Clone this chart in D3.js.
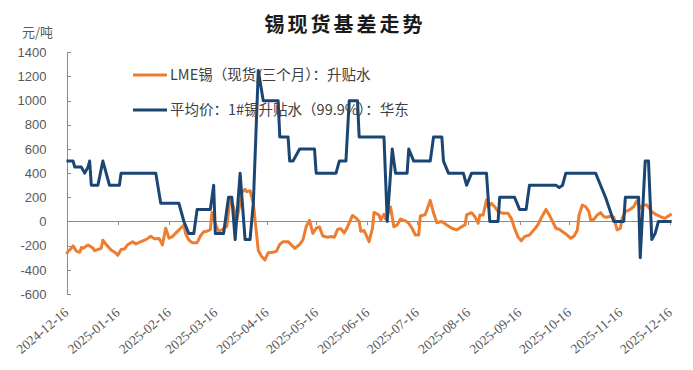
<!DOCTYPE html>
<html>
<head>
<meta charset="utf-8">
<script src="https://cdnjs.cloudflare.com/ajax/libs/d3/7.8.5/d3.min.js"></script>
<style>
  body { margin: 0; background: #fff; }
  svg { display: block; }
</style>
</head>
<body>
<div id="container"></div>
<script>
// ------ data ------
const titleText = '锡现货基差走势';
const unitText = '元/吨';
const seriesNames = ['LME锡（现货/三个月）：升贴水', '平均价：1#锡升贴水（99.9%）：华东'];
const seriesColors = ['#ED7D31', '#1B4674'];

const yTicks = [-600, -400, -200, 0, 200, 400, 600, 800, 1000, 1200, 1400];
const xTicks = ['2024-12-16', '2025-01-16', '2025-02-16', '2025-03-16', '2025-04-16', '2025-05-16',
  '2025-06-16', '2025-07-16', '2025-08-16', '2025-09-16', '2025-10-16', '2025-11-16', '2025-12-16'];

// LME锡 现货/三个月 升贴水
const lmeDates = [
  '2024-12-16', '2024-12-17', '2024-12-18', '2024-12-20', '2024-12-22', '2024-12-24', '2024-12-25', '2024-12-26', '2024-12-29',
  '2025-01-01', '2025-01-02', '2025-01-06', '2025-01-07', '2025-01-09', '2025-01-12', '2025-01-15', '2025-01-16', '2025-01-18',
  '2025-01-20', '2025-01-22', '2025-01-25', '2025-01-27', '2025-01-30', '2025-02-02', '2025-02-05', '2025-02-07', '2025-02-10',
  '2025-02-12', '2025-02-14', '2025-02-16', '2025-02-18', '2025-02-21', '2025-02-23', '2025-02-25', '2025-02-26', '2025-02-28',
  '2025-03-02', '2025-03-05', '2025-03-07', '2025-03-09', '2025-03-11', '2025-03-13', '2025-03-14', '2025-03-16', '2025-03-18',
  '2025-03-19', '2025-03-21', '2025-03-23', '2025-03-25', '2025-03-27', '2025-03-29', '2025-03-31', '2025-04-01', '2025-04-03',
  '2025-04-04', '2025-04-06', '2025-04-08', '2025-04-10', '2025-04-11', '2025-04-13', '2025-04-15', '2025-04-17', '2025-04-20',
  '2025-04-22', '2025-04-24', '2025-04-26', '2025-04-29', '2025-05-01', '2025-05-03', '2025-05-06', '2025-05-08', '2025-05-10',
  '2025-05-12', '2025-05-14', '2025-05-16', '2025-05-18', '2025-05-20', '2025-05-23', '2025-05-25', '2025-05-27', '2025-05-29',
  '2025-05-31', '2025-06-02', '2025-06-04', '2025-06-07', '2025-06-09', '2025-06-11', '2025-06-12', '2025-06-14', '2025-06-17',
  '2025-06-19', '2025-06-20', '2025-06-23', '2025-06-24', '2025-06-26', '2025-06-27', '2025-06-30', '2025-07-02', '2025-07-04',
  '2025-07-06', '2025-07-09', '2025-07-11', '2025-07-13', '2025-07-15', '2025-07-17', '2025-07-18', '2025-07-21', '2025-07-24',
  '2025-07-26', '2025-07-28', '2025-07-31', '2025-08-03', '2025-08-06', '2025-08-09', '2025-08-12', '2025-08-14', '2025-08-15',
  '2025-08-18', '2025-08-20', '2025-08-22', '2025-08-23', '2025-08-25', '2025-08-27', '2025-08-28', '2025-08-30', '2025-09-01',
  '2025-09-03', '2025-09-06', '2025-09-09', '2025-09-11', '2025-09-13', '2025-09-15', '2025-09-17', '2025-09-19', '2025-09-22',
  '2025-09-25', '2025-09-27', '2025-09-29', '2025-10-02', '2025-10-04', '2025-10-06', '2025-10-08', '2025-10-10', '2025-10-14',
  '2025-10-17', '2025-10-19', '2025-10-21', '2025-10-22', '2025-10-24', '2025-10-26', '2025-10-28', '2025-10-29', '2025-10-31',
  '2025-11-02', '2025-11-04', '2025-11-06', '2025-11-08', '2025-11-10', '2025-11-12', '2025-11-14', '2025-11-16', '2025-11-17',
  '2025-11-19', '2025-11-22', '2025-11-24', '2025-11-26', '2025-11-28', '2025-11-30', '2025-12-02', '2025-12-05', '2025-12-08',
  '2025-12-11', '2025-12-13', '2025-12-15', '2025-12-17'
];
const lmeValues = [
  -270, -245, -235, -202, -245, -255, -215, -222, -195,
  -220, -241, -222, -155, -190, -235, -263, -280, -232,
  -228, -192, -167, -186, -167, -150, -122, -142, -140,
  -194, -56, -139, -125, -84, -56, -29, -100, -153,
  -175, -175, -120, -84, -80, -68, 75, -20, -80,
  -75, -60, -40, 200, 120, 12, 150, 240, 266,
  246, 255, 150, -110, -240, -290, -318, -258, -255,
  -245, -190, -167, -167, -194, -222, -190, -153, -40,
  10, -98, -56, -45, -120, -130, -125, -130, -65,
  -60, -95, -43, 50, 30, 0, -80, -75, -167,
  -60, 75, 54, 12, 60, 20, 120, -43, -29,
  20, 5, -15, -56, -112, -112, 45, 57, 175,
  70, -10, 0, -29, -56, -70, -43, -29, 54,
  73, 40, -15, 54, 54, 178, 122, 150, 122,
  81, 68, 68, 26, -56, -125, -160, -125, -112,
  -65, -29, 26, 100, 54, 0, -56, -64, -103,
  -139, -120, -70, 54, 136, 122, 81, 12, 18,
  54, 73, 40, 35, 45, 35, -70, -56, 26,
  81, 100, 122, 172, 109, 136, 136, 81, 54,
  35, 26, 45, 62
];

// 平均价 1#锡升贴水 华东
const eastDates = [
  '2024-12-16', '2024-12-20', '2024-12-21', '2024-12-25', '2024-12-27', '2024-12-29', '2024-12-30', '2024-12-31',
  '2025-01-04', '2025-01-07', '2025-01-08', '2025-01-11', '2025-01-17', '2025-01-18', '2025-02-08', '2025-02-11',
  '2025-02-22', '2025-02-25', '2025-02-28', '2025-03-03', '2025-03-05', '2025-03-13', '2025-03-15', '2025-03-16',
  '2025-03-21', '2025-03-24', '2025-03-26', '2025-03-28', '2025-03-31', '2025-04-03', '2025-04-06', '2025-04-08',
  '2025-04-11', '2025-04-14', '2025-04-23', '2025-04-24', '2025-04-29', '2025-04-30', '2025-05-02', '2025-05-06',
  '2025-05-15', '2025-05-16', '2025-05-28', '2025-05-30', '2025-06-03', '2025-06-05', '2025-06-10', '2025-06-11',
  '2025-06-26', '2025-06-28', '2025-07-01', '2025-07-03', '2025-07-10', '2025-07-11', '2025-07-14', '2025-07-24',
  '2025-07-26', '2025-07-31', '2025-08-01', '2025-08-04', '2025-08-13', '2025-08-15', '2025-08-18', '2025-08-27',
  '2025-08-29', '2025-09-03', '2025-09-04', '2025-09-13', '2025-09-16', '2025-09-20', '2025-09-22', '2025-10-08',
  '2025-10-10', '2025-10-12', '2025-10-14', '2025-11-01', '2025-11-04', '2025-11-07', '2025-11-12', '2025-11-18',
  '2025-11-19', '2025-11-27', '2025-11-28', '2025-12-01', '2025-12-03', '2025-12-05', '2025-12-07', '2025-12-09',
  '2025-12-17'
];
const eastValues = [
  500, 500, 450, 450, 400, 450, 500, 300,
  300, 500, 450, 300, 300, 400, 400, 150,
  150, 0, -100, -100, 100, 100, 300, -100,
  -100, 200, 200, -150, 400, -150, -150, 150,
  1250, 1000, 1000, 700, 700, 500, 500, 600,
  600, 400, 400, 500, 500, 1000, 1000, 700,
  700, 0, 600, 400, 400, 600, 500, 500,
  700, 700, 500, 400, 400, 300, 400, 400,
  0, 0, 200, 200, 100, 100, 300, 300,
  280, 300, 400, 400, 300, 200, 0, 0,
  200, 200, -300, 500, 500, -150, -100, 0,
  0
];

// ------ chart ------
const width = 693,
  height = 370;

const parse = d3.timeParse('%Y-%m-%d');

const svg = d3.select('#container').append('svg')
  .attr('width', width)
  .attr('height', height);

const x = d3.scaleTime()
  .domain([parse(xTicks[0]), parse(xTicks[xTicks.length - 1])])
  .range([66.5, 670]);

const y = d3.scaleLinear()
  .domain([-600, 1400])
  .range([294, 52.3]);

// title + unit
svg.append('text')
  .attr('x', 345).attr('y', 32)
  .attr('text-anchor', 'middle')
  .style('font-family', '"Noto Sans CJK SC", sans-serif')
  .style('font-size', '20px')
  .style('font-weight', 'bold')
  .style('letter-spacing', '3px')
  .style('fill', '#1a1a1a')
  .text(titleText);

svg.append('text')
  .attr('x', 22).attr('y', 37)
  .style('font-family', '"Noto Sans CJK SC", sans-serif')
  .style('font-size', '13px')
  .style('fill', '#595959')
  .text(unitText);

// y axis
const yAxis = svg.append('g')
  .attr('transform', 'translate(66.5,0)')
  .call(d3.axisLeft(y).tickValues(yTicks).tickSize(-4).tickSizeOuter(0).tickPadding(20)
    .tickFormat(d => String(d)));

yAxis.selectAll('path, line').attr('stroke', '#8c8c8c').attr('shape-rendering', 'crispEdges');
yAxis.selectAll('text')
  .style('font-family', '"Liberation Sans", Arial, sans-serif')
  .style('font-size', '13px')
  .style('fill', '#595959');

// x axis on the zero line
const monthTicks = xTicks.map(parse);
const xAxis = svg.append('g')
  .attr('transform', `translate(0,${y(0)})`)
  .call(d3.axisBottom(x).tickValues(monthTicks).tickSize(4).tickSizeOuter(0).tickFormat(''));

xAxis.selectAll('path, line').attr('stroke', '#8c8c8c').attr('shape-rendering', 'crispEdges');

// x labels at bottom, rotated
svg.append('g').selectAll('text').data(monthTicks)
  .enter().append('text')
  .attr('transform', d => `translate(${x(d) + 3},314) rotate(-40)`)
  .attr('text-anchor', 'end')
  .style('font-family', '"Liberation Serif", serif')
  .style('font-size', '13.5px')
  .style('fill', '#595959')
  .text(d3.timeFormat('%Y-%m-%d'));

// series
const series = [
  { name: seriesNames[0], color: seriesColors[0], data: lmeDates.map((d, i) => ({ date: parse(d), value: lmeValues[i] })) },
  { name: seriesNames[1], color: seriesColors[1], data: eastDates.map((d, i) => ({ date: parse(d), value: eastValues[i] })) }
];

const line = d3.line()
  .x(d => x(d.date))
  .y(d => y(d.value));

svg.append('g').selectAll('path').data(series)
  .enter().append('path')
  .attr('d', d => line(d.data))
  .attr('fill', 'none')
  .attr('stroke', d => d.color)
  .attr('stroke-width', 3)
  .attr('stroke-linejoin', 'round');

// legend
const legend = svg.append('g').selectAll('g').data(series)
  .enter().append('g')
  .attr('transform', (d, i) => `translate(133,${75 + i * 35})`);

legend.append('line')
  .attr('x1', 0).attr('x2', 34)
  .attr('stroke', d => d.color)
  .attr('stroke-width', 3);

legend.append('text')
  .attr('x', 37).attr('y', 5)
  .style('font-family', '"Noto Sans CJK SC", sans-serif')
  .style('font-size', '14.5px')
  .style('fill', '#404040')
  .text(d => d.name);
</script>
</body>
</html>
